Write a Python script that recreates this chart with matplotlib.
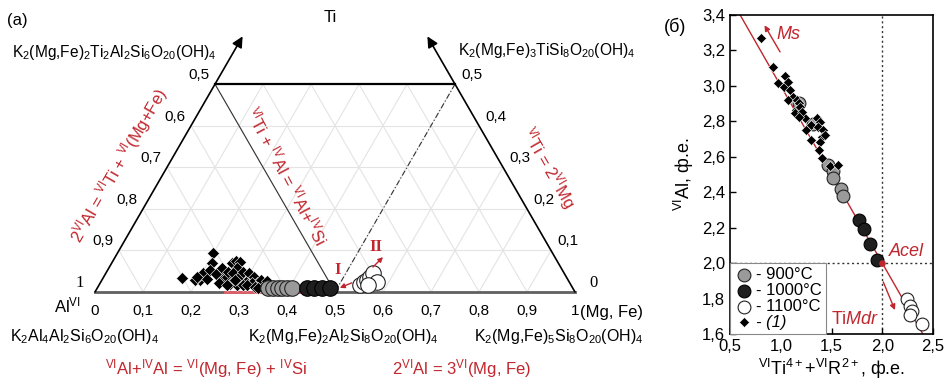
import numpy as np
import matplotlib
matplotlib.use("Agg")
from matplotlib import pyplot as plt
from matplotlib.ticker import FuncFormatter

plt.rcParams['font.family'] = ['Liberation Sans', 'DejaVu Sans']
plt.rcParams['mathtext.fontset'] = 'custom'
plt.rcParams['mathtext.rm'] = 'Liberation Sans'
plt.rcParams['mathtext.it'] = 'Liberation Sans:italic'
plt.rcParams['mathtext.bf'] = 'Liberation Sans:bold'

RED = '#c0262d'

# ---- panel (a): ternary Al(VI) - Ti - (Mg,Fe), values as (Mg, Ti) fractions
dia_mg = [0.199, 0.209, 0.202, 0.205, 0.217, 0.214, 0.230, 0.236, 0.251, 0.247,
          0.257, 0.253, 0.250, 0.257, 0.266, 0.267, 0.265, 0.282, 0.284, 0.303,
          0.298, 0.313, 0.327, 0.332, 0.345, 0.316, 0.271, 0.288, 0.300, 0.309,
          0.327, 0.345, 0.267, 0.278, 0.335, 0.164, 0.194, 0.195, 0.365]
dia_ti = [0.094, 0.070, 0.046, 0.029, 0.031, 0.053, 0.043, 0.058, 0.031, 0.022,
          0.036, 0.048, 0.070, 0.075, 0.072, 0.058, 0.046, 0.036, 0.048, 0.024,
          0.046, 0.036, 0.022, 0.029, 0.014, 0.022, 0.019, 0.017, 0.017, 0.017,
          0.012, 0.026, 0.017, 0.029, 0.010, 0.034, 0.029, 0.036, 0.007]
c900_mg = [0.355, 0.366, 0.376, 0.385, 0.395, 0.405]
c900_ti = [0.010, 0.010, 0.010, 0.010, 0.010, 0.010]
c1000_mg = [0.437, 0.451, 0.468, 0.485]
c1000_ti = [0.010, 0.010, 0.010, 0.010]
c1100_mg = [0.544, 0.548, 0.553, 0.555, 0.556, 0.575, 0.561]
c1100_ti = [0.017, 0.024, 0.029, 0.036, 0.046, 0.024, 0.017]

tick_vals = [0.1, 0.2, 0.3, 0.4, 0.5, 0.6, 0.7, 0.8, 0.9]

# ---- panel (б): VIAl vs VITi4+ + VIR2+
b_dia_x = [0.81, 0.928, 0.970, 1.043, 1.036, 1.075, 1.092, 1.118, 1.075, 1.157,
           1.184, 1.151, 1.141, 1.190, 1.239, 1.207, 1.184, 1.295, 1.246, 1.354,
           1.387, 1.370, 1.413, 1.302, 1.403, 1.436, 1.387, 1.380, 1.403, 1.485, 1.567]
b_dia_y = [3.272, 3.107, 3.018, 3.055, 2.995, 3.023, 2.976, 2.939, 2.920, 2.920,
           2.901, 2.864, 2.845, 2.883, 2.817, 2.855, 2.827, 2.780, 2.752, 2.817,
           2.798, 2.770, 2.752, 2.696, 2.714, 2.724, 2.686, 2.639, 2.593, 2.546, 2.555]
b900_x = [1.184, 1.321, 1.462, 1.518, 1.511, 1.590, 1.610]
b900_y = [2.901, 2.785, 2.551, 2.518, 2.480, 2.420, 2.381]
b1000_x = [1.774, 1.820, 1.880, 1.950]
b1000_y = [2.246, 2.194, 2.110, 2.015]
b1100_x = [2.240, 2.270, 2.290, 2.270, 2.390]
b1100_y = [1.800, 1.760, 1.730, 1.705, 1.655]
trend_x = [0.6, 2.4]
trend_y = [3.4, 1.6]

W, H = 946, 390
fig = plt.figure(figsize=(W / 100, H / 100), dpi=100)

SQ3 = np.sqrt(3)


def tern(mg, ti):
    mg = np.asarray(mg, dtype=float)
    ti = np.asarray(ti, dtype=float)
    return mg + ti / 2, ti * SQ3 / 2


def ftxt(x, y, s, **kw):
    fig.text(x / W, 1 - y / H, s, **kw)


ax0 = fig.add_axes([0, 0, 1, 1])
ax0.set_xlim(-95 / 480, (W - 95) / 480)
ax0.set_ylim(-(H - 292) / 480, 292 / 480)
ax0.axis('off')

# grid
gc = '#e4e4e4'
for k in [0.1, 0.2, 0.3, 0.4]:
    x, y = tern([0, 1 - k], [k, k])
    ax0.plot(x, y, color=gc, lw=0.8, zorder=1)
for k in tick_vals:
    t = min(0.5, 1 - k)
    x, y = tern([k, k], [0, t])
    ax0.plot(x, y, color=gc, lw=0.8, zorder=1)
    x, y = tern([1 - k, 1 - k - t], [0, t])
    ax0.plot(x, y, color=gc, lw=0.8, zorder=1)

# frame
x, y = tern([0, 0.5], [0.5, 0.5])
ax0.plot(x, y, color='k', lw=1.6, zorder=3)
x, y = tern([0, 1], [0, 0])
ax0.plot(x, y, color='#606060', lw=2, zorder=3)
ax0.annotate('', xy=tern(0, 0.615), xytext=tern(0, 0),
             arrowprops=dict(arrowstyle='-|>', lw=1.2, color='k', mutation_scale=16,
                             shrinkA=0, shrinkB=0), zorder=3)
ax0.annotate('', xy=tern(0.385, 0.615), xytext=tern(1, 0),
             arrowprops=dict(arrowstyle='-|>', lw=1.2, color='k', mutation_scale=16,
                             shrinkA=0, shrinkB=0), zorder=3)

# inner lines
x, y = tern([0, 0.5], [0.5, 0])
ax0.plot(x, y, color='#333333', lw=0.8, zorder=2)
x, y = tern([0.5, 0.5], [0.5, 0])
ax0.plot(x, y, color='#333333', lw=0.8, ls=(0, (5, 2, 1, 2)), zorder=2)

x, y = tern([0.27, 0.5], [0, 0])
ax0.plot(x, y, color='#e0606a', lw=2, zorder=4)

x, y = tern(dia_mg, dia_ti)
ax0.scatter(x, y, marker='D', s=38, color='k', edgecolor='white', linewidths=0.4, zorder=5)
x, y = tern(c900_mg, c900_ti)
ax0.scatter(x, y, s=125, color='#9a9a9a', edgecolor='#222222', linewidths=0.8, zorder=6)
x, y = tern(c1000_mg, c1000_ti)
ax0.scatter(x, y, s=125, color='#1f1f1f', edgecolor='#000000', linewidths=0.8, zorder=6)
x, y = tern(c1100_mg, c1100_ti)
ax0.scatter(x, y, s=125, color='white', edgecolor='#222222', linewidths=0.8, zorder=6)

ax0.annotate('', xy=tern(0.505, 0.010), xytext=tern(0.524, 0.022),
             arrowprops=dict(arrowstyle='-|>', lw=1, color=RED, mutation_scale=7,
                             shrinkA=0, shrinkB=0), zorder=7)
ax0.annotate('', xy=tern(0.558, 0.084), xytext=tern(0.549, 0.060),
             arrowprops=dict(arrowstyle='-|>', lw=1, color=RED, mutation_scale=7,
                             shrinkA=0, shrinkB=0), zorder=7)
ftxt(338, 270, 'I', color=RED, family='Liberation Serif', weight='bold', fontsize=12,
     ha='center', va='center')
ftxt(376, 247, 'II', color=RED, family='Liberation Serif', weight='bold', fontsize=12,
     ha='center', va='center')

# ternary tick labels
fmt = lambda v: ('%.1f' % v).replace('.', ',')
for a in [0.5, 0.6, 0.7, 0.8, 0.9]:
    ax0.annotate(fmt(a), xy=tern(0, 1 - a), xytext=(-11.5, 6.5),
                 textcoords='offset points', ha='center', va='center', fontsize=11)
for t in [0.1, 0.2, 0.3, 0.4, 0.5]:
    ax0.annotate(fmt(t), xy=tern(1 - t, t), xytext=(12, 6.5),
                 textcoords='offset points', ha='center', va='center', fontsize=11)
for m in [0.0] + tick_vals + [1.0]:
    lab = '0' if m == 0 else ('1' if m == 1 else fmt(m))
    ax0.annotate(lab, xy=tern(m, 0), xytext=(0, -13.5),
                 textcoords='offset points', ha='center', va='center', fontsize=11)
ax0.annotate('1', xy=tern(0, 0), xytext=(-11, 6.5), textcoords='offset points',
             ha='center', va='center', fontsize=12, family='Liberation Serif')
ax0.annotate('0', xy=tern(1, 0), xytext=(13, 6.5), textcoords='offset points',
             ha='center', va='center', fontsize=12, family='Liberation Serif')

ftxt(17, 20, '(a)', fontsize=12, ha='center', va='center')
ftxt(330, 18, 'Ti', fontsize=12, ha='center', va='center')
ftxt(12, 53, r'K$_2$(Mg,Fe)$_2$Ti$_2$Al$_2$Si$_6$O$_{20}$(OH)$_4$', fontsize=11.2,
     ha='left', va='center')
ftxt(458, 50, r'K$_2$(Mg,Fe)$_3$TiSi$_8$O$_{20}$(OH)$_4$', fontsize=11.2,
     ha='left', va='center')
ftxt(81, 305, r'Al$^{\mathrm{VI}}$', fontsize=12, ha='right', va='center')
ftxt(580, 312, '(Mg, Fe)', fontsize=12, ha='left', va='center')
ftxt(10, 337, r'K$_2$Al$_4$Al$_2$Si$_6$O$_{20}$(OH)$_4$', fontsize=11.5, ha='left', va='center')
ftxt(248, 337, r'K$_2$(Mg,Fe)$_2$Al$_2$Si$_8$O$_{20}$(OH)$_4$', fontsize=11.5,
     ha='left', va='center')
ftxt(474, 337, r'K$_2$(Mg,Fe)$_5$Si$_8$O$_{20}$(OH)$_4$', fontsize=11.5, ha='left', va='center')
ftxt(206, 369, r'$^{\mathrm{VI}}$Al+$^{\mathrm{IV}}$Al = $^{\mathrm{VI}}$(Mg, Fe) + $^{\mathrm{IV}}$Si',
     fontsize=12, color=RED, ha='center', va='center')
ftxt(462, 369, r'2$^{\mathrm{VI}}$Al = 3$^{\mathrm{VI}}$(Mg, Fe)', fontsize=12, color=RED,
     ha='center', va='center')
ftxt(119, 166, r'2$^{\mathrm{VI}}$Al = $^{\mathrm{VI}}$Ti + $^{\mathrm{VI}}$(Mg+Fe)', fontsize=12,
     color=RED, ha='center', va='center', rotation=60, rotation_mode='anchor')
ftxt(548, 168, r'$^{\mathrm{VI}}$Ti = 2$^{\mathrm{VI}}$Mg', fontsize=12, color=RED,
     ha='center', va='center', rotation=-60, rotation_mode='anchor')
ftxt(286, 176, r'$^{\mathrm{VI}}$Ti + $^{\mathrm{IV}}$Al = $^{\mathrm{VI}}$Al+$^{\mathrm{IV}}$Si',
     fontsize=12, color=RED, ha='center', va='center', rotation=-62, rotation_mode='anchor')

# ---- panel (б)
ax1 = fig.add_axes([730 / W, 1 - 334 / H, 203 / W, 319 / H])
ax1.set_xlim(0.5, 2.5)
ax1.set_ylim(1.6, 3.4)
ax1.plot(trend_x, trend_y, color=RED, lw=1, zorder=2)
ax1.axvline(2.0, color='#333333', lw=1, ls=(0, (1.5, 2)), zorder=1)
ax1.axhline(2.0, color='#333333', lw=1, ls=(0, (1.5, 2)), zorder=1)
ax1.scatter(b900_x, b900_y, s=85, color='#9a9a9a', edgecolor='#222222', linewidths=0.8,
            zorder=3, label='- 900°C')
ax1.scatter(b1000_x, b1000_y, s=85, color='#1f1f1f', edgecolor='k', linewidths=0.8,
            zorder=3, label='- 1000°C')
ax1.scatter(b1100_x, b1100_y, s=85, color='white', edgecolor='#222222', linewidths=0.8,
            zorder=3, label='- 1100°C')
ax1.scatter(b_dia_x, b_dia_y, marker='D', s=26, color='k', edgecolor='white',
            linewidths=0.4, zorder=4, label='- (1)')
ax1.scatter([2.0], [2.0], s=14, color=RED, zorder=5)

ax1.annotate('', xy=(0.84, 3.342), xytext=(0.993, 3.192),
             arrowprops=dict(arrowstyle='-|>', lw=1, color=RED, mutation_scale=8,
                             shrinkA=0, shrinkB=0))
ax1.annotate('', xy=(2.125, 1.735), xytext=(2.01, 1.894),
             arrowprops=dict(arrowstyle='-|>', lw=1, color=RED, mutation_scale=8,
                             shrinkA=0, shrinkB=0))
ax1.text(1.08, 3.29, 'Ms', color=RED, style='italic', fontsize=13, ha='center', va='center')
ax1.text(2.235, 2.065, 'Acel', color=RED, style='italic', fontsize=13, ha='center', va='center')
ax1.text(1.97, 1.68, r'Ti$\mathit{Mdr}$', color=RED, fontsize=13, ha='right', va='center')

ax1.set_xticks([0.5, 1.0, 1.5, 2.0, 2.5])
ax1.set_yticks([1.6, 1.8, 2.0, 2.2, 2.4, 2.6, 2.8, 3.0, 3.2, 3.4])
ax1.xaxis.set_major_formatter(FuncFormatter(lambda v, p: fmt(v)))
ax1.yaxis.set_major_formatter(FuncFormatter(lambda v, p: fmt(v)))
ax1.tick_params(direction='in', length=4, labelsize=12, width=1)
for s in ax1.spines.values():
    s.set_linewidth(1.2)
ax1.set_ylabel(r'$^{\mathrm{VI}}$Al, ф.е.', fontsize=13, labelpad=4)
ax1.set_xlabel(r'$^{\mathrm{VI}}$Ti$^{\mathrm{4+}}$+$^{\mathrm{VI}}$R$^{\mathrm{2+}}$, ф.е.',
               fontsize=13, labelpad=2)

leg = ax1.legend(loc='lower left', borderaxespad=0, fontsize=12, frameon=True,
                 fancybox=False, edgecolor='#888888', framealpha=1, handletextpad=0.1,
                 labelspacing=0.05, borderpad=0.25, handlelength=1.2)
leg.get_frame().set_linewidth(0.8)
leg.get_texts()[3].set_style('italic')
leg.set_zorder(6)

ftxt(675, 27, '(б)', fontsize=13, ha='center', va='center')

fig.savefig('out.png', dpi=100)
